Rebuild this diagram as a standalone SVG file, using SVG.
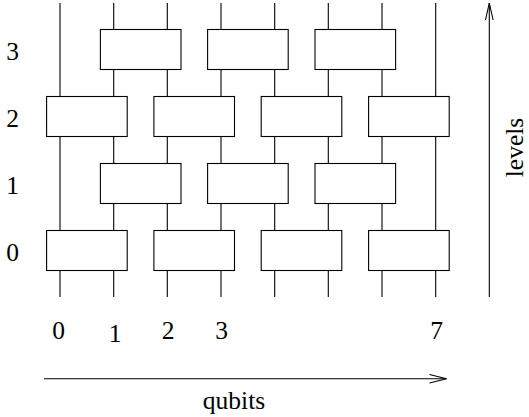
<svg xmlns="http://www.w3.org/2000/svg" width="529" height="417" viewBox="0 0 529 417">
  <style>
    .wire { stroke: #000; stroke-width: 1.1; fill: none; }
    .gate rect { fill: #fff; stroke: #000; stroke-width: 1.1; }
    .lbl { font-family: "Liberation Serif", "Times New Roman", serif; font-size: 25.5px; fill: #000; text-anchor: middle; }
    .axis { stroke: #000; stroke-width: 1.1; fill: none; }
  </style>
  <rect width="529" height="417" fill="#fff"/>

  <!-- qubit wires -->
  <g id="connectors">
    <line class="wire" x1="60" y1="3" x2="60" y2="297"/>
    <line class="wire" x1="113.7" y1="3" x2="113.7" y2="297"/>
    <line class="wire" x1="167.3" y1="3" x2="167.3" y2="297"/>
    <line class="wire" x1="221" y1="3" x2="221" y2="297"/>
    <line class="wire" x1="274.7" y1="3" x2="274.7" y2="297"/>
    <line class="wire" x1="328.3" y1="3" x2="328.3" y2="297"/>
    <line class="wire" x1="382" y1="3" x2="382" y2="297"/>
    <line class="wire" x1="435.7" y1="3" x2="435.7" y2="297"/>
  </g>

  <!-- level 3 gates -->
  <g id="gate-3-12" class="gate"><rect x="100.4" y="29.5" width="80.6" height="40"/></g>
  <g id="gate-3-34" class="gate"><rect x="207.6" y="29.5" width="80.6" height="40"/></g>
  <g id="gate-3-56" class="gate"><rect x="315" y="29.5" width="80.6" height="40"/></g>

  <!-- level 2 gates -->
  <g id="gate-2-01" class="gate"><rect x="46.6" y="96.5" width="80.6" height="40"/></g>
  <g id="gate-2-23" class="gate"><rect x="153.9" y="96.5" width="80.6" height="40"/></g>
  <g id="gate-2-45" class="gate"><rect x="261.2" y="96.5" width="80.6" height="40"/></g>
  <g id="gate-2-67" class="gate"><rect x="368.6" y="96.5" width="80.6" height="40"/></g>

  <!-- level 1 gates -->
  <g id="gate-1-12" class="gate"><rect x="100.4" y="163.5" width="80.6" height="40"/></g>
  <g id="gate-1-34" class="gate"><rect x="207.6" y="163.5" width="80.6" height="40"/></g>
  <g id="gate-1-56" class="gate"><rect x="315" y="163.5" width="80.6" height="40"/></g>

  <!-- level 0 gates -->
  <g id="gate-0-01" class="gate"><rect x="46.6" y="230.5" width="80.6" height="40"/></g>
  <g id="gate-0-23" class="gate"><rect x="153.9" y="230.5" width="80.6" height="40"/></g>
  <g id="gate-0-45" class="gate"><rect x="261.2" y="230.5" width="80.6" height="40"/></g>
  <g id="gate-0-67" class="gate"><rect x="368.6" y="230.5" width="80.6" height="40"/></g>

  <!-- level numbers -->
  <g id="level-labels">
    <text class="lbl" x="12.5" y="59.5">3</text>
    <text class="lbl" x="12.5" y="126.5">2</text>
    <text class="lbl" x="12.5" y="193.5">1</text>
    <text class="lbl" x="12.5" y="260.5">0</text>
  </g>

  <!-- qubit numbers -->
  <g id="qubit-labels">
    <text class="lbl" x="58.6" y="339">0</text>
    <text class="lbl" x="115" y="342">1</text>
    <text class="lbl" x="168" y="339">2</text>
    <text class="lbl" x="221.6" y="339">3</text>
    <text class="lbl" x="436.6" y="339">7</text>
  </g>

  <!-- levels axis -->
  <g id="levels-axis">
    <line class="axis" x1="489.3" y1="297" x2="489.3" y2="3"/>
    <polyline class="axis" points="485.5,20 489.3,3 493.1,20"/>
    <text class="lbl" transform="translate(523,147.5) rotate(-90)">levels</text>
  </g>

  <!-- qubits axis -->
  <g id="qubits-axis">
    <line class="axis" x1="44" y1="378.8" x2="446.6" y2="378.8"/>
    <polyline class="axis" points="429.5,374.5 446.6,378.8 429.5,383"/>
    <text class="lbl" x="234" y="408.5">qubits</text>
  </g>
</svg>
